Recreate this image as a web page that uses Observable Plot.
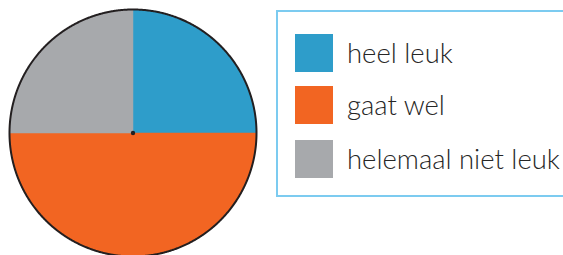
<!DOCTYPE html>
<html>
<head>
<meta charset="utf-8">
<script src="https://cdn.jsdelivr.net/npm/d3@7"></script>
<script src="https://cdn.jsdelivr.net/npm/@observablehq/plot@0.6"></script>
<style>
  html, body { margin: 0; padding: 0; background: #fff; overflow: hidden; width: 563px; height: 255px; }
  #wrap { position: relative; width: 563px; height: 255px; }
  #legend { position: absolute; left: 276px; top: 10px; width: 320px; height: 183px; border: 2px solid #7ccbf0; box-sizing: content-box; }
  .item { position: absolute; left: 17px; display: flex; align-items: center; }
  .sw { width: 38px; height: 38px; flex: none; }
  .lab { position: absolute; left: 52px; white-space: nowrap; font-family: Lato, "Open Sans", sans-serif; font-weight: 300; color: #262626; }
</style>
</head>
<body>
<div id="wrap"></div>
<script>
const categories = ["heel leuk", "gaat wel", "helemaal niet leuk"];
const values = [25, 50, 25];
const colors = ["#2e9dca", "#f26522", "#a7a9ac"];

// slice polygons in unit-circle data space, from d3.pie angles
const pie = d3.pie().sort(null)(values);
const pts = [];
pie.forEach((s, i) => {
  const cat = categories[i];
  pts.push({cat, x: 0, y: 0});
  const n = Math.max(2, Math.ceil((s.endAngle - s.startAngle) / 0.01));
  for (let k = 0; k <= n; k++) {
    const a = s.startAngle + (s.endAngle - s.startAngle) * k / n;
    pts.push({cat, x: Math.sin(a), y: Math.cos(a)});
  }
  pts.push({cat, x: 0, y: 0});
});
const ring = d3.range(0, 2 * Math.PI + 0.005, 0.005).map(a => ({x: Math.sin(a), y: Math.cos(a)}));

const chart = Plot.plot({
  width: 563,
  height: 255,
  margin: 0,
  x: {domain: [-1, 1], range: [9, 256], axis: null},
  y: {domain: [-1, 1], range: [256, 9], axis: null},
  color: {domain: categories, range: colors},
  marks: [
    Plot.line(pts, {x: "x", y: "y", z: "cat", fill: "cat", stroke: "cat", strokeWidth: 0.5, curve: "linear"}),
    Plot.line(ring, {x: "x", y: "y", stroke: "#231f20", strokeWidth: 2, curve: "linear"}),
    Plot.dot([{x: 0, y: 0}], {x: "x", y: "y", r: 2.2, fill: "#231f20"})
  ]
});
const wrap = document.getElementById("wrap");
chart.style.position = "absolute";
chart.style.left = "0";
chart.style.top = "0";
wrap.appendChild(chart);

const legend = document.createElement("div");
legend.id = "legend";
wrap.appendChild(legend);
const tops = [22, 74, 128];
categories.forEach((c, i) => {
  const it = document.createElement("div");
  it.className = "item";
  it.style.top = tops[i] + "px";
  const sw = document.createElement("div");
  sw.className = "sw";
  sw.style.background = colors[i];
  const lab = document.createElement("div");
  lab.className = "lab";
  lab.textContent = c;
  it.appendChild(sw);
  it.appendChild(lab);
  legend.appendChild(it);
});
// size text so that the longest label spans ~213px
const labs = legend.querySelectorAll(".lab");
const probe = labs[2];
probe.style.fontSize = "100px";
const w = probe.getBoundingClientRect().width;
const fs = 100 * 213 / w;
labs.forEach(l => { l.style.fontSize = fs + "px"; l.style.lineHeight = "38px"; l.style.top = "0px"; });
</script>
</body>
</html>
